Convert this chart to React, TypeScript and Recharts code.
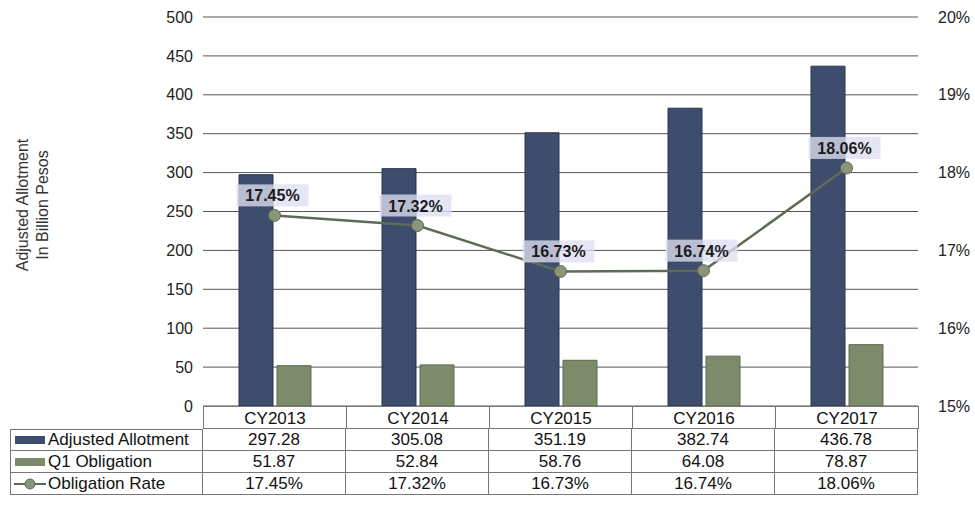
import { ComposedChart, Bar, Line, XAxis, YAxis, CartesianGrid, LabelList } from "recharts";

// values
const categories = ["CY2013", "CY2014", "CY2015", "CY2016", "CY2017"];
const adjustedAllotment = [297.28, 305.08, 351.19, 382.74, 436.78];
const q1Obligation = [51.87, 52.84, 58.76, 64.08, 78.87];
const obligationRate = [17.45, 17.32, 16.73, 16.74, 18.06];
const leftTicks = [0, 50, 100, 150, 200, 250, 300, 350, 400, 450, 500];
const rightTicks = [15, 16, 17, 18, 19, 20];

const NAVY = "#3e4d6e";
const OLIVE = "#7e8b6b";
const LINE = "#5f6b55";
const FONT = "'Liberation Sans', Arial, sans-serif";

const data = categories.map((c, i) => ({
  name: c,
  allotment: adjustedAllotment[i],
  q1: q1Obligation[i],
  rate: obligationRate[i],
}));

// plot box
const PLOT_LEFT = 203;
const PLOT_RIGHT = 918;
const PLOT_TOP = 17;
const PLOT_BOTTOM = 406;
const COL_W = (PLOT_RIGHT - PLOT_LEFT) / categories.length;

function RateLabel(props: any) {
  const { x, y, value } = props;
  const text = `${Number(value).toFixed(2)}%`;
  const cx = x - 2;
  const cy = y - 20;
  return (
    <g>
      <rect x={cx - 36} y={cy - 11} width={72} height={22} fill="rgba(222,222,240,0.78)" />
      <text x={cx} y={cy + 6} textAnchor="middle" fontSize={16} fontWeight="bold" fill="#1a1a1a" fontFamily={FONT}>
        {text}
      </text>
    </g>
  );
}

function AxisTitle() {
  return (
    <text transform="translate(31,205) rotate(-90)" textAnchor="middle" fontSize={16} fill="#333" fontFamily={FONT}>
      <tspan x={0} dy={-3}>Adjusted Allotment</tspan>
      <tspan x={0} dy={20}>In Billion Pesos</tspan>
    </text>
  );
}

const cell = { borderRight: "1px solid #777", borderBottom: "1px solid #777", textAlign: "center" as const };

function DataTable() {
  const rows = [
    { label: "Adjusted Allotment", values: adjustedAllotment.map((v) => v.toFixed(2)), icon: "navy" },
    { label: "Q1 Obligation", values: q1Obligation.map((v) => v.toFixed(2)), icon: "olive" },
    { label: "Obligation Rate", values: obligationRate.map((v) => v.toFixed(2) + "%"), icon: "line" },
  ];
  const rowH = 22;
  return (
    <div style={{ position: "absolute", left: 10, top: PLOT_BOTTOM, fontFamily: FONT, fontSize: 17, color: "#111" }}>
      <div style={{ display: "flex", height: 23 }}>
        <div style={{ width: PLOT_LEFT - 10 }} />
        {categories.map((c, i) => (
          <div
            key={c}
            style={{
              ...cell,
              width: COL_W - 1,
              borderTop: "1px solid #777",
              borderLeft: i === 0 ? "1px solid #777" : undefined,
              lineHeight: "23px",
            }}
          >
            {c}
          </div>
        ))}
      </div>
      {rows.map((r, ri) => (
        <div key={r.label} style={{ display: "flex", height: rowH }}>
          <div
            style={{
              width: PLOT_LEFT - 12,
              borderLeft: "1px solid #777",
              borderBottom: "1px solid #777",
              borderTop: ri === 0 ? "1px solid #777" : undefined,
              display: "flex",
              alignItems: "center",
              whiteSpace: "nowrap",
            }}
          >
            <svg width={34} height={12} style={{ marginLeft: 2, marginRight: 1, flexShrink: 0 }}>
              {r.icon === "navy" && <rect x={2} y={2} width={30} height={8} fill={NAVY} />}
              {r.icon === "olive" && <rect x={2} y={2} width={30} height={8} fill={OLIVE} />}
              {r.icon === "line" && (
                <g>
                  <line x1={1} y1={6} x2={33} y2={6} stroke={LINE} strokeWidth={2} />
                  <circle cx={17} cy={6} r={5} fill="#8a9678" stroke={LINE} strokeWidth={1} />
                </g>
              )}
            </svg>
            {r.label}
          </div>
          {r.values.map((v, i) => (
            <div
              key={i}
              style={{
                ...cell,
                width: COL_W - 1,
                borderLeft: i === 0 ? "1px solid #777" : undefined,
                lineHeight: `${rowH}px`,
              }}
            >
              {v}
            </div>
          ))}
        </div>
      ))}
    </div>
  );
}

export default function App() {
  return (
    <div style={{ position: "absolute", left: 0, top: 0, width: 975, height: 508, background: "#fff", overflow: "hidden" }}>
      <ComposedChart
        width={975}
        height={508}
        data={data}
        margin={{ top: PLOT_TOP, right: 0, bottom: 508 - PLOT_BOTTOM, left: 0 }}
        barSize={34}
        barGap={4}
      >
        <CartesianGrid yAxisId="left" vertical={false} stroke="#555" strokeWidth={1} />
        <XAxis dataKey="name" hide />
        <YAxis
          yAxisId="left"
          width={PLOT_LEFT}
          domain={[0, 500]}
          ticks={leftTicks}
          axisLine={false}
          tickLine={false}
          tickSize={0}
          tickMargin={10}
          tick={{ fontSize: 16, fill: "#222", fontFamily: FONT }}
          label={<AxisTitle />}
        />
        <YAxis
          yAxisId="right"
          orientation="right"
          width={975 - PLOT_RIGHT}
          domain={[15, 20]}
          ticks={rightTicks}
          axisLine={false}
          tickLine={false}
          tickSize={0}
          tickMargin={20}
          tickFormatter={(v) => `${v}%`}
          tick={{ fontSize: 16, fill: "#222", fontFamily: FONT }}
        />
        <Bar yAxisId="left" dataKey="allotment" fill={NAVY} stroke="#2a3550" strokeWidth={1} isAnimationActive={false} />
        <Bar yAxisId="left" dataKey="q1" fill={OLIVE} stroke="#5f6a50" strokeWidth={1} isAnimationActive={false} />
        <Line
          yAxisId="right"
          dataKey="rate"
          stroke={LINE}
          strokeWidth={2.5}
          dot={{ r: 6, fill: "#8a9678", stroke: LINE, strokeWidth: 1 }}
          isAnimationActive={false}
        >
          <LabelList dataKey="rate" content={<RateLabel />} />
        </Line>
      </ComposedChart>
      <DataTable />
    </div>
  );
}
